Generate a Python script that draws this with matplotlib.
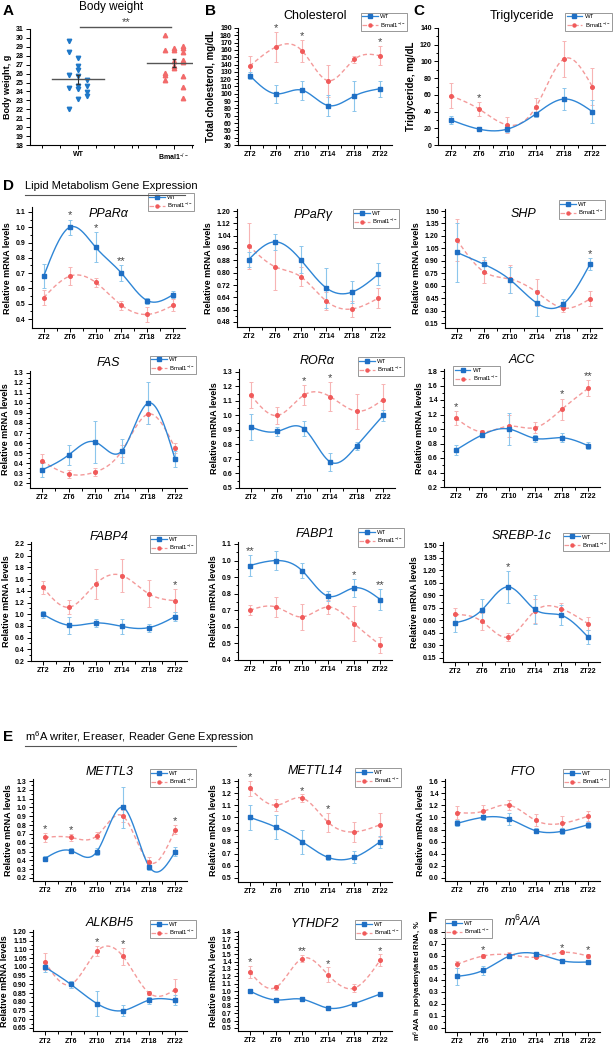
import numpy as np
import matplotlib
matplotlib.use('Agg')
import matplotlib.pyplot as plt
from matplotlib.lines import Line2D
from matplotlib.ticker import FixedLocator, FormatStrFormatter

plt.rcParams['font.family'] = ['Liberation Sans', 'DejaVu Sans']
plt.rcParams['mathtext.fontset'] = 'custom'
plt.rcParams['mathtext.rm'] = 'Liberation Sans'
plt.rcParams['mathtext.it'] = 'Liberation Sans:italic'
plt.rcParams['mathtext.bf'] = 'Liberation Sans:bold'

# ---------------- DATA ----------------
zt_labels = ['ZT2', 'ZT6', 'ZT10', 'ZT14', 'ZT18', 'ZT22']

# A: body weight
bw_wt = [29.6, 28.4, 25.8, 24.4, 22.0, 27.7, 26.8, 26.4, 25.7, 24.6, 24.3, 23.1, 25.3, 24.6, 23.9, 23.5]
bw_wt_col = [-1, -1, -1, -1, -1, 0, 0, 0, 0, 0, 0, 0, 1, 1, 1, 1]
bw_ko = [30.3, 28.6, 26.1, 25.9, 25.3, 28.9, 28.7, 27.4, 26.9, 26.6, 29.1, 28.9, 28.4, 27.5, 27.3, 25.7, 24.5, 23.3]
bw_ko_col = [-1, -1, -1, -1, -1, 0, 0, 0, 0, 0, 1, 1, 1, 1, 1, 1, 1, 1]

# B: cholesterol
chol_wt = [125, 100, 105, 84, 97, 107]
chol_wt_err = [5, 12, 13, 14, 21, 11]
chol_ko = [138, 164, 159, 118, 147, 152]
chol_ko_err = [14, 20, 15, 22, 5, 13]
chol_sig = ['', '*', '*', '', '', '*']

# C: triglyceride
tg_wt = [30, 19, 19, 37, 55, 40]
tg_wt_err = [5, 2, 4, 3, 13, 14]
tg_ko = [59, 43, 24, 45, 103, 70]
tg_ko_err = [15, 8, 10, 11, 22, 22]
tg_sig = ['', '*', '', '', '', '']

# D: lipid metabolism genes
ppara_wt = [0.68, 1.00, 0.87, 0.70, 0.52, 0.56]
ppara_wt_err = [0.08, 0.05, 0.10, 0.05, 0.02, 0.02]
ppara_ko = [0.54, 0.68, 0.64, 0.49, 0.43, 0.49]
ppara_ko_err = [0.05, 0.06, 0.03, 0.03, 0.05, 0.04]
ppara_sig = ['', '*', '*', '**', '', '']

pparg_wt = [0.885, 1.00, 0.885, 0.70, 0.675, 0.79]
pparg_wt_err = [0.05, 0.05, 0.09, 0.13, 0.07, 0.07]
pparg_ko = [0.975, 0.84, 0.775, 0.615, 0.565, 0.635]
pparg_ko_err = [0.15, 0.15, 0.06, 0.06, 0.05, 0.065]
pparg_sig = ['', '', '', '', '', '']

shp_wt = [1.00, 0.86, 0.67, 0.39, 0.38, 0.86]
shp_wt_err = [0.35, 0.08, 0.16, 0.16, 0.06, 0.07]
shp_ko = [1.15, 0.77, 0.68, 0.52, 0.33, 0.44]
shp_ko_err = [0.25, 0.14, 0.17, 0.16, 0.05, 0.09]
shp_sig = ['', '', '', '', '', '*']

fas_wt = [0.33, 0.48, 0.61, 0.52, 1.00, 0.44]
fas_wt_err = [0.07, 0.10, 0.21, 0.12, 0.21, 0.08]
fas_ko = [0.42, 0.29, 0.31, 0.52, 0.89, 0.55]
fas_ko_err = [0.07, 0.04, 0.04, 0.06, 0.10, 0.05]
fas_sig = ['', '', '', '', '', '']

rora_wt = [0.92, 0.89, 0.91, 0.68, 0.79, 1.00]
rora_wt_err = [0.09, 0.03, 0.05, 0.06, 0.03, 0.04]
rora_ko = [1.14, 1.00, 1.14, 1.13, 1.03, 1.11]
rora_ko_err = [0.09, 0.06, 0.07, 0.10, 0.12, 0.11]
rora_sig = ['', '', '*', '*', '', '']

acc_wt = [0.71, 0.92, 1.00, 0.87, 0.88, 0.77]
acc_wt_err = [0.07, 0.03, 0.22, 0.05, 0.06, 0.05]
acc_ko = [1.15, 0.96, 1.04, 1.02, 1.27, 1.56]
acc_ko_err = [0.10, 0.02, 0.15, 0.08, 0.15, 0.11]
acc_sig = ['*', '', '', '', '*', '**']

fabp4_wt = [1.00, 0.81, 0.85, 0.79, 0.77, 0.96]
fabp4_wt_err = [0.06, 0.14, 0.07, 0.12, 0.07, 0.07]
fabp4_ko = [1.46, 1.12, 1.52, 1.66, 1.35, 1.23]
fabp4_ko_err = [0.11, 0.12, 0.26, 0.28, 0.23, 0.20]
fabp4_sig = ['', '', '', '', '', '*']

fabp1_wt = [0.97, 1.00, 0.94, 0.785, 0.835, 0.765]
fabp1_wt_err = [0.065, 0.055, 0.045, 0.03, 0.055, 0.065]
fabp1_ko = [0.70, 0.72, 0.66, 0.72, 0.62, 0.49]
fabp1_ko_err = [0.03, 0.06, 0.08, 0.045, 0.105, 0.05]
fabp1_sig = ['**', '', '', '', '*', '**']

srebp_wt = [0.57, 0.72, 1.00, 0.73, 0.66, 0.40]
srebp_wt_err = [0.11, 0.13, 0.19, 0.17, 0.12, 0.08]
srebp_ko = [0.67, 0.59, 0.40, 0.71, 0.74, 0.56]
srebp_ko_err = [0.08, 0.10, 0.05, 0.14, 0.07, 0.08]
srebp_sig = ['', '', '*', '', '', '']

# E: m6A writer / eraser / reader genes
mettl3_wt = [0.42, 0.51, 0.50, 1.00, 0.33, 0.50]
mettl3_wt_err = [0.03, 0.03, 0.04, 0.23, 0.04, 0.05]
mettl3_ko = [0.66, 0.66, 0.68, 0.90, 0.38, 0.75]
mettl3_ko_err = [0.05, 0.04, 0.04, 0.07, 0.06, 0.05]
mettl3_sig = ['*', '*', '', '', '', '*']

mettl14_wt = [1.00, 0.92, 0.80, 0.67, 0.67, 0.80]
mettl14_wt_err = [0.10, 0.10, 0.10, 0.02, 0.05, 0.05]
mettl14_ko = [1.24, 1.10, 1.16, 0.96, 0.88, 0.94]
mettl14_ko_err = [0.06, 0.05, 0.03, 0.08, 0.08, 0.10]
mettl14_sig = ['*', '', '*', '*', '', '']

fto_wt = [0.90, 1.00, 0.97, 0.78, 0.77, 0.88]
fto_wt_err = [0.05, 0.04, 0.10, 0.04, 0.05, 0.05]
fto_ko = [1.08, 1.10, 1.20, 0.95, 0.90, 1.02]
fto_ko_err = [0.10, 0.10, 0.08, 0.10, 0.12, 0.08]
fto_sig = ['', '', '', '', '', '']

alkbh5_wt = [1.00, 0.90, 0.79, 0.75, 0.81, 0.81]
alkbh5_wt_err = [0.03, 0.02, 0.07, 0.03, 0.02, 0.03]
alkbh5_ko = [1.03, 0.90, 1.09, 1.06, 0.85, 0.87]
alkbh5_ko_err = [0.05, 0.02, 0.03, 0.05, 0.01, 0.06]
alkbh5_sig = ['', '', '*', '*', '', '']

ythdf2_wt = [1.00, 0.88, 0.89, 0.77, 0.83, 0.96]
ythdf2_wt_err = [0.03, 0.01, 0.02, 0.01, 0.01, 0.02]
ythdf2_ko = [1.26, 1.05, 1.44, 1.22, 1.04, 1.42]
ythdf2_ko_err = [0.08, 0.03, 0.05, 0.10, 0.05, 0.08]
ythdf2_sig = ['*', '', '**', '*', '', '*']

# F: m6A/A
m6a_wt = [0.43, 0.48, 0.60, 0.62, 0.56, 0.55]
m6a_wt_err = [0.07, 0.04, 0.01, 0.01, 0.005, 0.005]
m6a_ko = [0.53, 0.60, 0.61, 0.59, 0.63, 0.60]
m6a_ko_err = [0.03, 0.02, 0.02, 0.01, 0.01, 0.02]
m6a_sig = ['', '*', '', '', '*', '*']

# ---------------- STYLE ----------------
W, H = 616, 1050
fig = plt.figure(figsize=(W / 100, H / 100), dpi=100)

BLUE = '#1f6fc4'
BLUE_L = '#2f86d6'
BLUE_E = '#8cc6ec'
RED = '#f05a5a'
RED_L = '#f49a9a'
RED_E = '#f7b4b4'
KO_LABEL = 'Bmal1$^{-/-}$'


def add_axes_px(x0, x1, ytop, ybot):
    return fig.add_axes([x0 / W, 1 - ybot / H, (x1 - x0) / W, (ybot - ytop) / H])


def natural_spline(x, y, n=200):
    x = np.asarray(x, float)
    y = np.asarray(y, float)
    m = len(x)
    h = np.diff(x)
    A = np.zeros((m, m))
    b = np.zeros(m)
    A[0, 0] = 1
    A[-1, -1] = 1
    for i in range(1, m - 1):
        A[i, i - 1] = h[i - 1]
        A[i, i] = 2 * (h[i - 1] + h[i])
        A[i, i + 1] = h[i]
        b[i] = 3 * ((y[i + 1] - y[i]) / h[i] - (y[i] - y[i - 1]) / h[i - 1])
    c = np.linalg.solve(A, b)
    xs = np.linspace(x[0], x[-1], n)
    ys = np.empty_like(xs)
    for k, xv in enumerate(xs):
        i = min(np.searchsorted(x, xv, side='right') - 1, m - 2)
        dx = xv - x[i]
        bi = (y[i + 1] - y[i]) / h[i] - h[i] * (2 * c[i] + c[i + 1]) / 3
        di = (c[i + 1] - c[i]) / (3 * h[i])
        ys[k] = y[i] + bi * dx + c[i] * dx ** 2 + di * dx ** 3
    return xs, ys


def style_axes(ax):
    for s in ['top', 'right']:
        ax.spines[s].set_visible(False)
    for s in ['left', 'bottom']:
        ax.spines[s].set_linewidth(0.8)
    ax.tick_params(which='both', direction='out', width=0.7)
    ax.tick_params(which='major', length=3, labelsize=5, pad=1.5)
    ax.tick_params(which='minor', length=1.8)
    for lab in ax.get_xticklabels() + ax.get_yticklabels():
        lab.set_fontweight('bold')


def legend(ax, loc, anchor):
    h = [Line2D([], [], color=BLUE_L, lw=0.9, marker='s', ms=2.2, mfc=BLUE, mec=BLUE, label='WT'),
         Line2D([], [], color=RED_L, lw=0.9, ls='--', marker='o', ms=2.2, mfc=RED, mec=RED, label=KO_LABEL)]
    lg = ax.legend(handles=h, loc=loc, bbox_to_anchor=anchor, fontsize=4.3, frameon=True,
                   fancybox=False, edgecolor='#888888', framealpha=1, handlelength=2.6,
                   borderpad=0.25, labelspacing=0.15, handletextpad=0.4, borderaxespad=0)
    lg.get_frame().set_linewidth(0.6)


def line_panel(x0, x1, ptop, pbot, ticks, ylim, fmt, wt, wte, ko, koe, sig, title,
               ylabel='Relative mRNA levels', leg_loc='upper right', leg_anchor=(1.06, 1.08),
               title_style='italic', ylabel_size=6.5, title_y=1.0):
    s = (pbot - ptop) / (ticks[-1] - ticks[0])
    ytop = ptop - (ylim[1] - ticks[-1]) * s
    ybot = pbot + (ticks[0] - ylim[0]) * s
    ax = add_axes_px(x0, x1, ytop, ybot)
    x = np.arange(len(zt_labels))
    ax.errorbar(x, ko, yerr=koe, fmt='none', ecolor=RED_E, elinewidth=0.8, capsize=1.6, capthick=0.7, zorder=2)
    ax.errorbar(x, wt, yerr=wte, fmt='none', ecolor=BLUE_E, elinewidth=0.8, capsize=1.6, capthick=0.7, zorder=2)
    xs, ys = natural_spline(x, ko)
    ax.plot(xs, ys, color=RED_L, lw=1.0, ls=(0, (3, 2)), zorder=3)
    xs, ys = natural_spline(x, wt)
    ax.plot(xs, ys, color=BLUE_L, lw=1.0, zorder=3)
    ax.plot(x, ko, ls='none', marker='o', ms=2.6, color=RED, zorder=4)
    ax.plot(x, wt, ls='none', marker='s', ms=2.6, color=BLUE, zorder=4)
    yr = ylim[1] - ylim[0]
    for i, st in enumerate(sig):
        if st:
            top = max(wt[i] + wte[i], ko[i] + koe[i])
            ax.text(i, top + 0.035 * yr, st, ha='center', va='center', fontsize=8,
                    color='#444444', clip_on=False)
    ax.set_xlim(-0.45, 5.45)
    ax.set_ylim(*ylim)
    ax.set_xticks(x)
    ax.set_xticklabels(zt_labels)
    ax.xaxis.set_minor_locator(FixedLocator(x[:-1] + 0.5))
    ax.set_yticks(ticks)
    ax.yaxis.set_major_formatter(FormatStrFormatter(fmt))
    step = ticks[1] - ticks[0]
    ax.yaxis.set_minor_locator(FixedLocator(np.arange(ticks[0] + step / 2, ticks[-1], step)))
    style_axes(ax)
    ax.set_ylabel(ylabel, fontsize=ylabel_size, fontweight='bold', labelpad=3)
    if title:
        ax.set_title(title, fontsize=9, style=title_style, y=title_y, pad=0)
    legend(ax, leg_loc, leg_anchor)
    return ax


# ---------------- A ----------------
axA = add_axes_px(30, 193, 29, 145)
cw = 0.19
axA.plot(1 + np.array(bw_wt_col) * cw, bw_wt, ls='none', marker='v', ms=3.2, color='#1f78c8')
axA.plot(3 + np.array(bw_ko_col) * cw, bw_ko, ls='none', marker='^', ms=3.2, color='#f26b6b')
for xc, vals in [(1, bw_wt), (3, bw_ko)]:
    m = np.mean(vals)
    se = np.std(vals, ddof=1) / np.sqrt(len(vals))
    axA.plot([xc - 0.55, xc + 0.55], [m, m], color='#555555', lw=1.0, zorder=5)
    axA.errorbar([xc], [m], yerr=[se], fmt='none', ecolor='#333333', elinewidth=0.8, capsize=1.6, zorder=5)
axA.set_xlim(0, 3.4)
axA.set_ylim(18, 31)
axA.set_yticks(np.arange(18, 32, 1))
axA.set_xticks([1, 3])
axA.set_xticklabels(['WT', KO_LABEL])
axA.xaxis.set_minor_locator(FixedLocator([0.25, 0.63, 1.37, 1.75, 2.13, 2.25, 2.63, 3.37]))
style_axes(axA)
axA.set_ylabel('Body weight, g', fontsize=6.5, fontweight='bold', labelpad=3)
axA.set_title('Body weight', fontsize=8.5, pad=14)
axA.plot([1.05, 2.95], [31.2, 31.2], color='#555555', lw=1.0, clip_on=False)
axA.text(2, 31.75, '**', ha='center', va='center', fontsize=8, color='#444444')

# ---------------- B ----------------
line_panel(238, 392, 28, 145, list(range(30, 191, 10)), (30, 190), '%d',
           chol_wt, chol_wt_err, chol_ko, chol_ko_err, chol_sig, 'Cholesterol',
           ylabel='Total cholesterol, mg/dL', title_style='normal', leg_anchor=(1.1, 1.13),
           ylabel_size=7, title_y=1.08)

# ---------------- C ----------------
line_panel(438, 605, 28, 145, list(range(0, 141, 20)), (0, 140), '%d',
           tg_wt, tg_wt_err, tg_ko, tg_ko_err, tg_sig, 'Triglyceride',
           ylabel='Triglyceride, mg/dL', title_style='normal', leg_anchor=(1.04, 1.13),
           ylabel_size=7, title_y=1.08)

# ---------------- D ----------------
line_panel(32, 185, 212, 319, list(np.round(np.arange(0.4, 1.11, 0.1), 2)), (0.34, 1.13), '%.1f',
           ppara_wt, ppara_wt_err, ppara_ko, ppara_ko_err, ppara_sig, 'PPaR\u03b1',
           leg_anchor=(1.06, 1.12), title_y=0.92)
line_panel(237, 390, 211, 322, list(np.round(np.arange(0.48, 1.21, 0.08), 2)), (0.45, 1.21), '%.2f',
           pparg_wt, pparg_wt_err, pparg_ko, pparg_ko_err, pparg_sig, 'PPaR\u03b3',
           leg_anchor=(1.06, 1.0), title_y=0.93)
line_panel(445, 602, 211, 323, list(np.round(np.arange(0.15, 1.51, 0.15), 2)), (0.09, 1.53), '%.2f',
           shp_wt, shp_wt_err, shp_ko, shp_ko_err, shp_sig, 'SHP',
           leg_anchor=(1.02, 1.07), title_y=0.93)

line_panel(30, 187, 373, 483, list(np.round(np.arange(0.2, 1.31, 0.1), 2)), (0.15, 1.32), '%.1f',
           fas_wt, fas_wt_err, fas_ko, fas_ko_err, fas_sig, 'FAS',
           leg_anchor=(1.06, 1.13), title_y=1.04)
line_panel(239, 395, 372, 488, list(np.round(np.arange(0.5, 1.31, 0.1), 2)), (0.5, 1.32), '%.1f',
           rora_wt, rora_wt_err, rora_ko, rora_ko_err, rora_sig, 'ROR\u03b1',
           leg_anchor=(1.06, 1.1), title_y=1.04)
line_panel(444, 600, 371, 487, list(np.round(np.arange(0.2, 1.81, 0.2), 2)), (0.2, 1.83), '%.1f',
           acc_wt, acc_wt_err, acc_ko, acc_ko_err, acc_sig, 'ACC',
           leg_loc='upper left', leg_anchor=(0.06, 1.02), title_y=1.05)

line_panel(31, 187, 544, 661, list(np.round(np.arange(0.2, 2.21, 0.2), 2)), (0.2, 2.23), '%.1f',
           fabp4_wt, fabp4_wt_err, fabp4_ko, fabp4_ko_err, fabp4_sig, 'FABP4',
           leg_anchor=(1.06, 1.06), title_y=1.02)
line_panel(238, 392, 544, 660, list(np.round(np.arange(0.4, 1.11, 0.1), 2)), (0.4, 1.115), '%.1f',
           fabp1_wt, fabp1_wt_err, fabp1_ko, fabp1_ko_err, fabp1_sig, 'FABP1',
           leg_anchor=(1.08, 1.11), title_y=1.04)
line_panel(443, 600, 545, 658, list(np.round(np.arange(0.15, 1.51, 0.15), 2)), (0.1, 1.53), '%.2f',
           srebp_wt, srebp_wt_err, srebp_ko, srebp_ko_err, srebp_sig, 'SREBP-1c',
           leg_anchor=(1.06, 1.08), title_y=1.03)

# ---------------- E ----------------
line_panel(33, 187, 781, 878, list(np.round(np.arange(0.2, 1.31, 0.1), 2)), (0.17, 1.32), '%.1f',
           mettl3_wt, mettl3_wt_err, mettl3_ko, mettl3_ko_err, mettl3_sig, 'METTL3',
           leg_anchor=(1.06, 1.1), title_y=1.04)
line_panel(238, 392, 781, 878, list(np.round(np.arange(0.5, 1.31, 0.1), 2)), (0.47, 1.32), '%.1f',
           mettl14_wt, mettl14_wt_err, mettl14_ko, mettl14_ko_err, mettl14_sig, 'METTL14',
           leg_anchor=(1.06, 1.1), title_y=1.04)
line_panel(445, 600, 781, 878, list(np.round(np.arange(0.0, 1.61, 0.2), 2)), (-0.05, 1.63), '%.1f',
           fto_wt, fto_wt_err, fto_ko, fto_ko_err, fto_sig, 'FTO',
           leg_anchor=(1.06, 1.1), title_y=1.04)

line_panel(33, 187, 932, 1028, list(np.round(np.arange(0.65, 1.201, 0.05), 2)), (0.63, 1.21), '%.2f',
           alkbh5_wt, alkbh5_wt_err, alkbh5_ko, alkbh5_ko_err, alkbh5_sig, 'ALKBH5',
           leg_anchor=(1.06, 1.1), title_y=1.04)
line_panel(238, 392, 932, 1028, list(np.round(np.arange(0.5, 1.81, 0.1), 2)), (0.46, 1.82), '%.1f',
           ythdf2_wt, ythdf2_wt_err, ythdf2_ko, ythdf2_ko_err, ythdf2_sig, 'YTHDF2',
           leg_anchor=(1.06, 1.1), title_y=1.04)
line_panel(445, 600, 932, 1028, list(np.round(np.arange(0.0, 0.81, 0.1), 2)), (-0.03, 0.82), '%.1f',
           m6a_wt, m6a_wt_err, m6a_ko, m6a_ko_err, m6a_sig, 'm$^{6}$A/A',
           ylabel='m$^{6}$A/A in polyadenylated RNA, %', ylabel_size=5.5,
           leg_loc='upper left', leg_anchor=(0.0, 1.1), title_y=1.04)

# ---------------- panel letters & headers ----------------
def letter(x, y, t):
    fig.text(x / W, 1 - y / H, t, fontsize=11, fontweight='bold', ha='left', va='center')

letter(3, 11, 'A')
letter(205, 11, 'B')
letter(413, 11, 'C')
letter(3, 186, 'D')
letter(3, 737, 'E')
letter(428, 918, 'F')

fig.text(25 / W, 1 - 186 / H, 'Lipid Metabolism Gene Expression', fontsize=8, ha='left', va='center')
fig.add_artist(Line2D([25 / W, 185 / W], [1 - 195 / H, 1 - 195 / H], color='#555555', lw=0.8))
fig.text(25 / W, 1 - 737 / H, 'm$^{6}$A writer, Ereaser, Reader Gene Expression', fontsize=8, ha='left', va='center')
fig.add_artist(Line2D([25 / W, 236 / W], [1 - 746 / H, 1 - 746 / H], color='#555555', lw=0.8))

fig.savefig('out.png', dpi=100, facecolor='white')
